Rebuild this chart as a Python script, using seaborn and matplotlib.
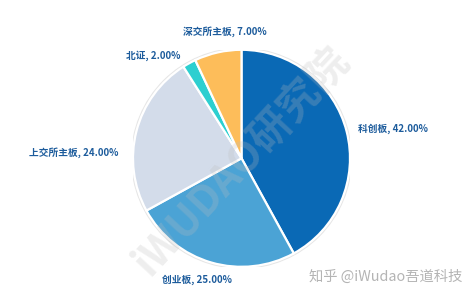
import matplotlib
matplotlib.use('Agg')
import matplotlib.pyplot as plt
import seaborn as sns
import numpy as np

# ---- data ----
categories = ['科创板', '创业板', '上交所主板', '北证', '深交所主板']
shares = [42.00, 25.00, 24.00, 2.00, 7.00]

# ---- style ----
colors = ['#0a69b5', '#4ba3d5', '#d3dcea', '#2dcfd0', '#fdbd5a']
label_color = '#1d5c9c'

sns.set_theme(style='white')
plt.rcParams['font.family'] = ['Noto Sans CJK SC', 'DejaVu Sans']

W, H = 474, 297
fig = plt.figure(figsize=(W / 100, H / 100), dpi=100)
fig.patch.set_facecolor('white')

cx, cy, R = 241.5, H - 158.3, 108.5
ax = fig.add_axes([(cx - R) / W, (cy - R) / H, 2 * R / W, 2 * R / H])
wedges, _ = ax.pie(shares, colors=colors, startangle=90, counterclock=False,
                   radius=1.0,
                   wedgeprops=dict(edgecolor='white', linewidth=1.6))
# faint outline
circ = plt.Circle((0, 0), 1.012, fill=False, edgecolor='#e6e6e6', linewidth=1.2, zorder=0)
ax.add_patch(circ)
ax.set_xlim(-1, 1)
ax.set_ylim(-1, 1)
ax.set_aspect('equal')
ax.axis('off')

# label anchors in pie-radius units (layout)
label_layout = [
    (1.074, 0.27, 'left'),
    (-0.41, -1.12, 'center'),
    (-1.138, 0.049, 'right'),
    (-0.567, 0.943, 'right'),
    (-0.152, 1.164, 'center'),
]
for cat, val, (lx, ly, ha) in zip(categories, shares, label_layout):
    ax.text(lx, ly, f'{cat}, {val:.2f}%', ha=ha, va='center',
            fontsize=7, fontweight='bold', color=label_color, clip_on=False)

# watermark
fig.text(242 / W, 1 - 162 / H, 'iWUDAO研究院', rotation=47, ha='center', va='center',
         fontsize=30, color='#bdbdbd', alpha=0.25, fontweight='bold')
fig.text(462 / W, 1 - 277 / H, '知乎 @iWudao吾道科技', ha='right', va='center',
         fontsize=10.3, color='#b4b4b4')

fig.savefig('out.png', dpi=100)
